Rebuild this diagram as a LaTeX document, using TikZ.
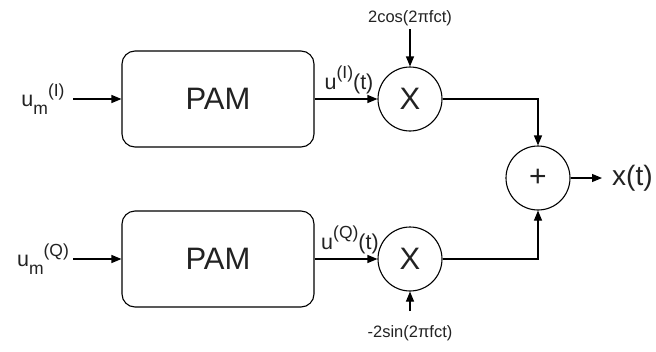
\documentclass[tikz,border=0pt]{standalone}
\usepackage{fontspec}
\setmainfont{Liberation Sans}
\usetikzlibrary{arrows.meta}
\definecolor{txt}{HTML}{222222}
\newcommand\mysup[1]{\raisebox{0.5em}{\fontsize{17.5}{17.5}\selectfont #1}}
\newcommand\mysub[1]{\raisebox{-0.35em}{\fontsize{17.5}{17.5}\selectfont #1}}
\begin{document}
\begin{tikzpicture}[x=1pt,y=-1pt,
  box/.style={draw, rounded corners=13pt, minimum width=192pt, minimum height=96pt, line width=1.1pt, font=\fontsize{31}{33}\selectfont, text=txt},
  op/.style={draw, circle, minimum size=64pt, inner sep=0pt, line width=1.1pt, text=txt},
  arr/.style={-{Triangle[length=10pt,width=8pt]}, line width=1.1pt},
  lbl/.style={font=\fontsize{21.5}{23}\selectfont, inner sep=0pt, text=txt},
  sml/.style={font=\fontsize{16.5}{18}\selectfont, inner sep=0pt, text=txt}]
\useasboundingbox (0,0) rectangle (656,351);
% blocks
\node[box] (p1) at (218,99) {PAM};
\node[box] (p2) at (218,259) {PAM};
\node[op, font=\fontsize{31}{33}\selectfont] (m1) at (410,99) {X};
\node[op, font=\fontsize{31}{33}\selectfont] (m2) at (410,259) {X};
\node[op, font=\fontsize{30}{32}\selectfont] (s) at (538,178) {+};
% inputs
\node[lbl] (i1) at (43,99) {u\mysub{m}\mysup{(I)}};
\node[lbl] (i2) at (43,259) {u\mysub{m}\mysup{(Q)}};
\coordinate (a1) at (73,99);
\coordinate (a2) at (73,259);
\draw[arr] (a1) -- (p1.west);
\draw[arr] (a2) -- (p2.west);
% PAM outputs
\draw[arr] (p1.east) -- (m1.west);
\draw[arr] (p2.east) -- (m2.west);
\node[lbl] (o1) at (349,80) {u\mysup{(I)}(t)};
\node[lbl] (o2) at (350,240) {u\mysup{(Q)}(t)};
% carriers
\node[sml] (c1) at (410,18) {2cos(2πfct)};
\node[sml] (c2) at (410,333) {-2sin(2πfct)};
\coordinate (c1e) at (410,29);
\coordinate (c2e) at (410,311);
\draw[arr] (c1e) -- (m1.north);
\draw[arr] (c2e) -- (m2.south);
% to sum
\draw[arr] (m1.east) -| (s.north);
\draw[arr] (m2.east) -| (s.south);
% output
\coordinate (xo) at (602,178);
\draw[arr] (s.east) -- (xo);
\node[font=\fontsize{28}{30}\selectfont, anchor=west, inner sep=0pt, text=txt] (x) at (612,178) {x(t)};
\end{tikzpicture}
\end{document}
